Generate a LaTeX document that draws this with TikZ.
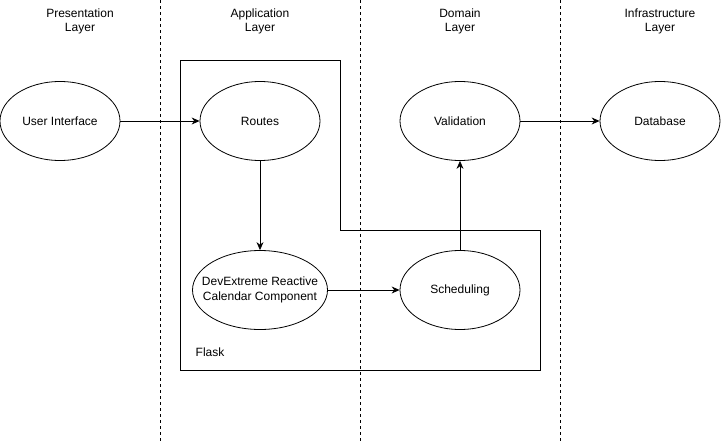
\documentclass[tikz,border=0pt]{standalone}
\usepackage{fontspec}
\setmainfont{Liberation Sans}
\usetikzlibrary{shapes.geometric,arrows.meta}

\begin{document}
\begin{tikzpicture}[x=1pt,y=-1pt,line width=0.8pt,
  comp/.style={draw,ellipse,minimum width=120pt,minimum height=79pt,inner sep=0pt,align=center,font=\fontsize{12}{15}\selectfont},
  layer/.style={align=center,font=\fontsize{12}{14}\selectfont},
  flow/.style={-{Stealth[length=8pt,width=7pt]}}]
\useasboundingbox (0,0) rectangle (721,442);

\draw[dash pattern=on 3pt off 3pt] (160,0) -- (160,442);
\draw[dash pattern=on 3pt off 3pt] (360,0) -- (360,442);
\draw[dash pattern=on 3pt off 3pt] (560,0) -- (560,442);

\node[layer] (pres) at (80,21) {Presentation\\Layer};
\node[layer] (appl) at (260,21) {Application\\Layer};
\node[layer] (domn) at (460,21) {Domain\\Layer};
\node[layer] (infr) at (660,21) {Infrastructure\\Layer};

\draw (180,60) -- (340,60) -- (340,230) -- (540,230) -- (540,370) -- (180,370) -- cycle;
\node[layer,anchor=west] (flask) at (192,352) {Flask};

\node[comp] (ui) at (60,121) {User Interface};
\node[comp] (routes) at (260,121) {Routes};
\node[comp] (valid) at (460,121) {Validation};
\node[comp] (db) at (660,121) {Database};
\node[comp,inner xsep=-15pt,minimum width=135pt] (cal) at (260,290) {DevExtreme Reactive\\Calendar Component};
\node[comp] (sched) at (460,290) {Scheduling};

\draw[flow] (ui) -- (routes);
\draw[flow] (routes) -- (cal);
\draw[flow] (cal) -- (sched);
\draw[flow] (sched) -- (valid);
\draw[flow] (valid) -- (db);
\end{tikzpicture}
\end{document}
